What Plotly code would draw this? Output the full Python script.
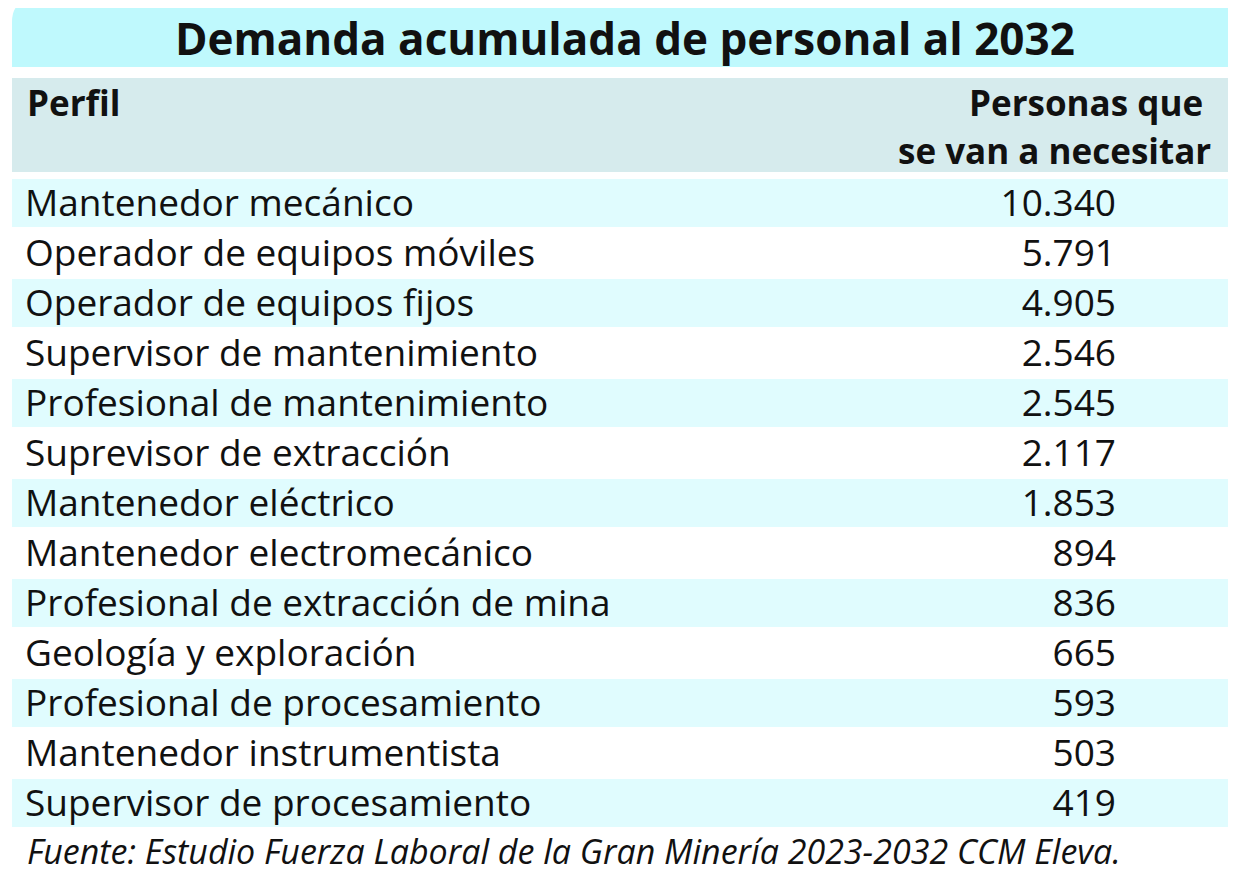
import plotly.graph_objects as go

# table data
perfiles = [
    "Mantenedor mecánico",
    "Operador de equipos móviles",
    "Operador de equipos fijos",
    "Supervisor de mantenimiento",
    "Profesional de mantenimiento",
    "Suprevisor de extracción",
    "Mantenedor eléctrico",
    "Mantenedor electromecánico",
    "Profesional de extracción de mina",
    "Geología y exploración",
    "Profesional de procesamiento",
    "Mantenedor instrumentista",
    "Supervisor de procesamiento",
]
personas = [10340, 5791, 4905, 2546, 2545, 2117, 1853, 894, 836, 665, 593, 503, 419]

titulo = "Demanda acumulada de personal al 2032"
col_perfil = "Perfil"
col_personas = ["Personas que", "se van a necesitar"]
fuente = "Fuente: Estudio Fuerza Laboral de la Gran Minería 2023-2032 CCM Eleva."

W, H = 1238, 880
OFF = 8  # page body margin
FONT = "Open Sans"
CYAN = "#bff9fd"
HEAD = "#d6ebed"
BAND = "#e0fcfe"


def fmt(n):
    return f"{n:,}".replace(",", ".")


def py(px):
    # screen pixel row -> paper y
    return 1 - (px - OFF) / H


rows = list(range(len(perfiles)))
text_rows = [i + 0.07 for i in rows]  # nudge text down to sit like the print
band_colors = [BAND if i % 2 == 0 else "rgba(0,0,0,0)" for i in rows]

fig = go.Figure()

# alternating row bands
fig.add_trace(go.Bar(
    y=rows, x=[1216] * len(rows), base=12, orientation="h",
    width=0.95, marker=dict(color=band_colors, line=dict(width=0)),
    hoverinfo="skip", showlegend=False,
))

fig.add_trace(go.Scatter(
    y=text_rows, x=[25] * len(rows), mode="text", text=perfiles,
    textposition="middle right",
    textfont=dict(family=FONT, size=37, color="#111"),
    hoverinfo="skip", showlegend=False,
))

fig.add_trace(go.Scatter(
    y=text_rows, x=[1116] * len(rows), mode="text", text=[fmt(v) for v in personas],
    textposition="middle left",
    textfont=dict(family=FONT, size=37, color="#111"),
    hoverinfo="skip", showlegend=False,
))

# title band with rounded top-left corner, header band
r = 22
fig.add_shape(
    type="path", xref="x", yref="paper",
    path=(f"M 12 {py(67)} L 12 {py(r)} Q 12 {py(0)} {12 + r} {py(0)} "
          f"L 1228 {py(0)} L 1228 {py(67)} Z"),
    fillcolor=CYAN, line=dict(width=0), layer="below",
)
fig.add_shape(type="rect", xref="x", yref="paper", x0=12, x1=1228,
              y0=py(172), y1=py(78), fillcolor=HEAD, line=dict(width=0),
              layer="below")


def label(x, y, text, size, anchor):
    fig.add_annotation(x=x, y=py(y), text=text, xref="x", yref="paper",
                       xanchor=anchor, yanchor="middle", showarrow=False,
                       font=dict(family=FONT, size=size, color="#111"))


label(625, 38, f"<b>{titulo}</b>", 44, "center")
label(25, 103, f"<b>{col_perfil}</b>", 35, "left")
label(1205, 103, f"<b>{col_personas[0]}</b>", 35, "right")
label(1213, 150, f"<b>{col_personas[1]}</b>", 35, "right")
label(25, 851, f"<i>{fuente}</i>", 34, "left")

# y pitch 50px, first row centred at 203px on screen
top = 203 - OFF
fig.update_layout(
    width=W, height=H, margin=dict(l=0, r=0, t=0, b=0),
    paper_bgcolor="white", plot_bgcolor="white",
    xaxis=dict(range=[OFF, W + OFF], visible=False, fixedrange=True),
    yaxis=dict(range=[(H - top) / 50, -top / 50], visible=False, fixedrange=True),
    bargap=0, showlegend=False,
)

fig.write_html("out.html")
